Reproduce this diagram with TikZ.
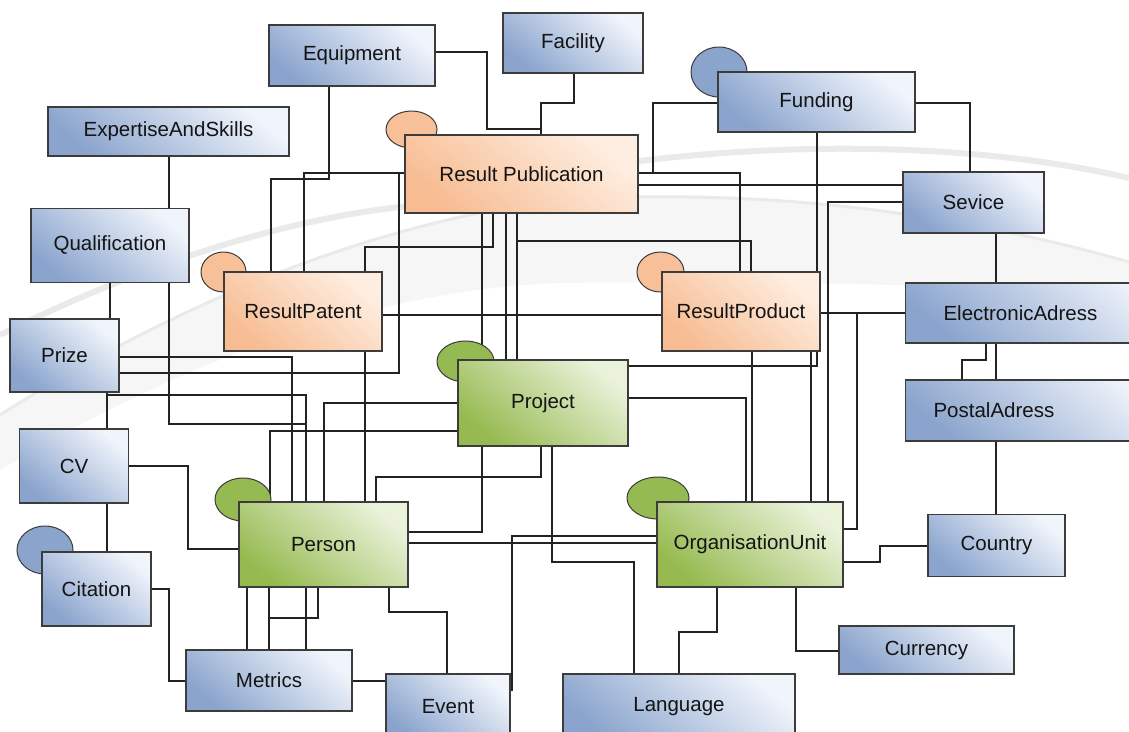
\documentclass[tikz,border=0pt]{standalone}
\usepackage{fontspec}
\setmainfont{Liberation Sans}
\usetikzlibrary{shapes.geometric}
\pgfdeclarelayer{back}
\pgfdeclarelayer{lines}
\pgfsetlayers{back,lines,main}
\definecolor{blueD}{RGB}{138,164,205}
\definecolor{blueL}{RGB}{240,244,251}
\definecolor{orangeD}{RGB}{247,188,146}
\definecolor{orangeL}{RGB}{254,238,225}
\definecolor{greenD}{RGB}{150,186,80}
\definecolor{greenL}{RGB}{234,242,218}
\definecolor{ellB}{RGB}{139,164,204}
\definecolor{ellO}{RGB}{247,192,152}
\definecolor{ellG}{RGB}{150,186,82}
\definecolor{boxline}{RGB}{60,60,60}
\definecolor{lineC}{RGB}{35,35,35}
\definecolor{txt}{RGB}{20,20,20}
\definecolor{swooshC}{RGB}{234,234,234}
\definecolor{swooshF}{RGB}{246,246,246}
\tikzset{
  ent/.style={rectangle, draw=boxline, line width=1.1pt, text=txt, inner sep=0pt,
    font=\fontsize{20.5}{24}\selectfont},
  bluebox/.style={ent, top color=blueL, bottom color=blueD, shading angle=-40},
  orangebox/.style={ent, top color=orangeL, bottom color=orangeD, shading angle=-40},
  greenbox/.style={ent, top color=greenL, bottom color=greenD, shading angle=-40},
  ellb/.style={ellipse, draw=boxline, line width=1pt, fill=ellB, inner sep=0pt},
  ello/.style={ellipse, draw=boxline, line width=1pt, fill=ellO, inner sep=0pt},
  ellg/.style={ellipse, draw=boxline, line width=1pt, fill=ellG, inner sep=0pt},
  conn/.style={draw=lineC, line width=1.2pt},
}
\begin{document}
\begin{tikzpicture}[x=1pt,y=-1pt]
\useasboundingbox (0,0) rectangle (1129,731);
% background and swoosh
\begin{pgfonlayer}{back}
\fill[white] (0,0) rectangle (1129,731);
\fill[swooshF] (0,415) .. controls (150,320) and (350,225) .. (560,200) .. controls (800,185) and (1000,225) .. (1129,262)
  -- (1129,300) .. controls (1000,285) and (800,280) .. (560,283) .. controls (350,290) and (150,380) .. (0,470) -- cycle;
\draw[swooshC, line width=6pt] (0,335) .. controls (150,260) and (300,215) .. (420,205) .. controls (600,150) and (900,125) .. (1129,178);
\draw[swooshC, line width=3pt] (0,415) .. controls (150,320) and (350,225) .. (560,200) .. controls (800,185) and (1000,225) .. (1129,262);
\end{pgfonlayer}
% ellipses
\node[ello, minimum width=51, minimum height=37] (rpubE) at (411.5,129.5) {};
\node[ellb, minimum width=56, minimum height=50] (fundE) at (719,72) {};
\node[ello, minimum width=45, minimum height=40] (rpatE) at (223.5,272) {};
\node[ello, minimum width=47, minimum height=40] (rprodE) at (660.5,272) {};
\node[ellg, minimum width=57, minimum height=41] (projE) at (465.5,361.5) {};
\node[ellg, minimum width=56, minimum height=43] (personE) at (243,499.5) {};
\node[ellg, minimum width=62, minimum height=42] (orgE) at (658,498) {};
\node[ellb, minimum width=56, minimum height=48] (citationE) at (45,550) {};
% boxes
\node[bluebox, minimum width=166, minimum height=61] (equip) at (352,55.5) {Equipment};
\node[bluebox, minimum width=140, minimum height=60] (facil) at (573,43) {Facility};
\node[bluebox, minimum width=241, minimum height=49] (expert) at (168.5,131.5) {ExpertiseAndSkills};
\node[orangebox, minimum width=233, minimum height=78] (rpub) at (521.5,174) {Result Publication};
\node[bluebox, minimum width=197, minimum height=60] (fund) at (816.5,102) {Funding};
\node[bluebox, minimum width=141, minimum height=61] (sevice) at (973.5,202.5) {Sevice};
\node[bluebox, minimum width=158, minimum height=74] (qual) at (110,245.5) {Qualification};
\node[orangebox, minimum width=158, minimum height=79] (rpat) at (303,311.5) {ResultPatent};
\node[orangebox, minimum width=158, minimum height=79] (rprod) at (741,311.5) {ResultProduct};
\node[bluebox, anchor=west, minimum height=60, text width=200, align=left, inner xsep=38] (eaddr) at (905,313) {ElectronicAdress};
\node[bluebox, minimum width=109, minimum height=73] (prize) at (64.5,355.5) {Prize};
\node[greenbox, minimum width=170, minimum height=86] (proj) at (543,403) {Project};
\node[bluebox, anchor=west, minimum height=61, text width=210, align=left, inner xsep=28] (paddr) at (905,410.5) {PostalAdress};
\node[bluebox, minimum width=109, minimum height=74] (cv) at (74,466) {CV};
\node[greenbox, minimum width=169, minimum height=85] (person) at (323.5,544.5) {Person};
\node[greenbox, minimum width=186, minimum height=85] (org) at (750,544.5) {OrganisationUnit};
\node[bluebox, minimum width=137, minimum height=62] (country) at (996.5,545.5) {Country};
\node[bluebox, minimum width=109, minimum height=74] (citation) at (96.5,589) {Citation};
\node[bluebox, minimum width=175, minimum height=48] (currency) at (926.5,650) {Currency};
\node[bluebox, minimum width=166, minimum height=61] (metrics) at (269,680.5) {Metrics};
\node[bluebox, minimum width=124, minimum height=66] (event) at (448,707) {Event};
\node[bluebox, minimum width=232, minimum height=66] (lang) at (679,707) {Language};
% connectors
\begin{pgfonlayer}{lines}
\draw[conn] (expert.south -| 169,0) -- (qual.north -| 169,0);
\draw[conn] (equip.south -| 329,0) |- (271,179) -- (rpat.north -| 271,0);
\draw[conn] (equip.east |- 0,52) -| (487,129) -| (rpub.north -| 541,0);
\draw[conn] (facil.south -| 574,0) |- (541,103) -- (rpub.north -| 541,0);
\draw[conn] (fund.west |- 0,103) -| (653,173) -- (rpub.east |- 0,173);
\draw[conn] (fund.east |- 0,103) -| (sevice.north -| 970,0);
\draw[conn] (fund.south -| 817,0) |- (proj.east |- 0,366);
\draw[conn] (rpub.east |- 0,185) -- (sevice.west |- 0,185);
\draw[conn] (rpub.east |- 0,173) -| (rprod.north -| 740,0);
\draw[conn] (rpub.south -| 517,0) |- (751,241) -- (rprod.north -| 751,0);
\draw[conn] (rpub.south -| 493,0) |- (365,247) -- (rpat.north -| 365,0);
\draw[conn] (rpub.west |- 0,173) -| (rpat.north -| 304,0);
\draw[conn] (rpub.west |- 0,173) -| (399,373) -- (prize.east |- 0,373);
\draw[conn] (rpub.south -| 482,0) -- (proj.north -| 482,0);
\draw[conn] (rpub.south -| 506,0) -- (proj.north -| 506,0);
\draw[conn] (rpub.south -| 517,0) -- (proj.north -| 517,0);
\draw[conn] (sevice.south -| 996,0) -- (eaddr.north -| 996,0);
\draw[conn] (sevice.west |- 0,202) -| (org.north -| 828,0);
\draw[conn] (qual.south -| 110,0) -- (prize.north -| 110,0);
\draw[conn] (qual.south -| 169,0) |- (306,424) -- (person.north -| 306,0);
\draw[conn] (rpat.east |- 0,315) -- (rprod.west |- 0,315);
\draw[conn] (rpat.south -| 365,0) -- (person.north -| 365,0);
\draw[conn] (rprod.east |- 0,313) -- (eaddr.west |- 0,313);
\draw[conn] (eaddr.west |- 0,313) -| (857,529) -- (org.east |- 0,529);
\draw[conn] (rprod.south -| 752,0) -- (org.north -| 752,0);
\draw[conn] (rprod.south -| 811,0) -- (org.north -| 811,0);
\draw[conn] (eaddr.south -| 996,0) -- (paddr.north -| 996,0);
\draw[conn] (eaddr.south -| 986,0) |- (962,360) -- (paddr.north -| 962,0);
\draw[conn] (paddr.south -| 996,0) -- (country.north -| 996,0);
\draw[conn] (prize.east |- 0,357) -| (person.north -| 292,0);
\draw[conn] (prize.south -| 107,0) -- (cv.north -| 107,0);
\draw[conn] (prize.south -| 107,0) |- (306,395) -- (person.north -| 306,0);
\draw[conn] (proj.west |- 0,403) -| (person.north -| 324,0);
\draw[conn] (proj.west |- 0,431) -| (person.north -| 270,0);
\draw[conn] (proj.south -| 541,0) |- (376,477) -- (person.north -| 376,0);
\draw[conn] (proj.south -| 482,0) |- (person.east |- 0,532);
\draw[conn] (proj.east |- 0,398) -| (org.north -| 746,0);
\draw[conn] (proj.south -| 552,0) |- (634,562) -- (lang.north -| 634,0);
\draw[conn] (cv.east |- 0,466) -| (188,549) -- (person.west |- 0,549);
\draw[conn] (cv.south -| 107,0) -- (citation.north -| 107,0);
\draw[conn] (citation.east |- 0,589) -| (169,681) -- (metrics.west |- 0,681);
\draw[conn] (person.east |- 0,543) -- (org.west |- 0,543);
\draw[conn] (person.south -| 247,0) -- (metrics.north -| 247,0);
\draw[conn] (person.south -| 269,0) -- (metrics.north -| 269,0);
\draw[conn] (person.south -| 306,0) -- (metrics.north -| 306,0);
\draw[conn] (person.south -| 318,0) |- (269,618) -- (metrics.north -| 269,0);
\draw[conn] (person.south -| 389,0) |- (447,612) -- (event.north -| 447,0);
\draw[conn] (metrics.east |- 0,681) -- (event.west |- 0,681);
\draw[conn, line width=1.5pt] (event.east |- 0,690) -- (512,690) -- (512,536) -- (org.west |- 0,536);
\draw[conn] (org.east |- 0,562) -| (880,546) -- (country.west |- 0,546);
\draw[conn] (org.south -| 796,0) |- (currency.west |- 0,651);
\draw[conn] (org.south -| 717,0) |- (679,632) -- (lang.north -| 679,0);
\end{pgfonlayer}
\end{tikzpicture}
\end{document}
